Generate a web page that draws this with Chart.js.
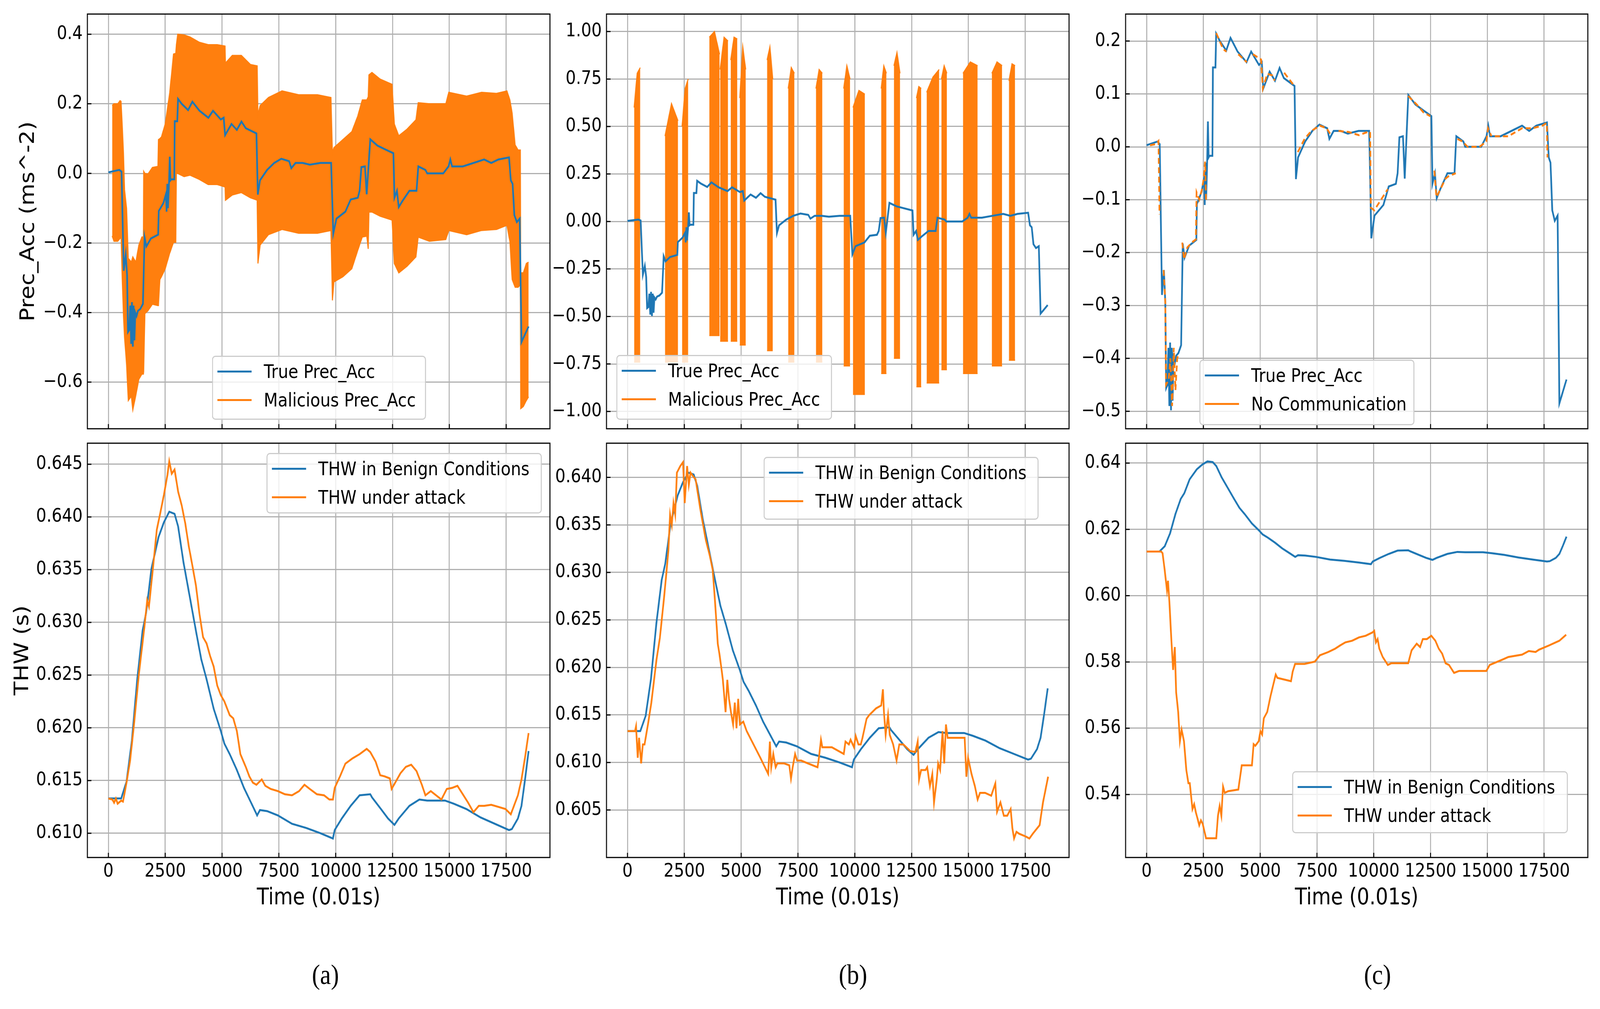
<!DOCTYPE html>
<html lang="en">
<head>
<meta charset="UTF-8">
<title>Prec_Acc and THW under attack</title>
<script src="https://cdn.jsdelivr.net/npm/chart.js@4.4.1/dist/chart.umd.min.js"></script>
<style>
  html, body { margin: 0; padding: 0; background: #fff; overflow: hidden; }
  body { position: relative; font-family: "DejaVu Sans", sans-serif; }
  #stage { position: absolute; left: 0; top: 0; width: 4725px; height: 2584px; transform-origin: 0 0; background: #fff; }
  canvas.panel { position: absolute; }
  .legend { position: absolute; box-sizing: border-box; border: 3px solid #cccccc; border-radius: 10px; background: rgba(255,255,255,0.8); }
  .legend .item { position: absolute; left: 0; right: 0; height: 60px; }
  .legend .swatch { position: absolute; left: 13px; width: 101px; height: 5px; top: 28px; }
  .legend .text { position: absolute; left: 150px; top: 0; line-height: 60px; font-size: 48px; color: #000; white-space: nowrap; }
  .caption { position: absolute; font-family: "Liberation Serif", "Times New Roman", serif; font-size: 72px; color: #000; transform: translate(-50%, -50%); }
</style>
</head>
<body>
<div id="stage"></div>
<script>
// ---- data (time in 0.01 s) ----

// x ticks (shared by every panel)
const xTickVals = [0, 2500, 5000, 7500, 10000, 12500, 15000, 17500];
const xTickLabels = ["0", "2500", "5000", "7500", "10000", "12500", "15000", "17500"];

// y ticks
const aTopTickVals = [-0.6, -0.4, -0.2, 0.0, 0.2, 0.4];
const aTopTickLabels = ["\u22120.6", "\u22120.4", "\u22120.2", "0.0", "0.2", "0.4"];
const aBotTickVals = [0.610, 0.615, 0.620, 0.625, 0.630, 0.635, 0.640, 0.645];
const aBotTickLabels = ["0.610", "0.615", "0.620", "0.625", "0.630", "0.635", "0.640", "0.645"];
const bTopTickVals = [-1.0, -0.75, -0.5, -0.25, 0.0, 0.25, 0.5, 0.75, 1.0];
const bTopTickLabels = ["\u22121.00", "\u22120.75", "\u22120.50", "\u22120.25", "0.00", "0.25", "0.50", "0.75", "1.00"];
const bBotTickVals = [0.605, 0.610, 0.615, 0.620, 0.625, 0.630, 0.635, 0.640];
const bBotTickLabels = ["0.605", "0.610", "0.615", "0.620", "0.625", "0.630", "0.635", "0.640"];
const cTopTickVals = [-0.5, -0.4, -0.3, -0.2, -0.1, 0.0, 0.1, 0.2];
const cTopTickLabels = ["\u22120.5", "\u22120.4", "\u22120.3", "\u22120.2", "\u22120.1", "0.0", "0.1", "0.2"];
const cBotTickVals = [0.54, 0.56, 0.58, 0.60, 0.62, 0.64];
const cBotTickLabels = ["0.54", "0.56", "0.58", "0.60", "0.62", "0.64"];

// True Prec_Acc (same trace in a, b, c)
const trueAccT = [0, 480, 577, 676, 762, 822, 862, 920, 960, 1000, 1035, 1075, 1110, 1145, 1185, 1240, 1300, 1400, 1520, 1591,
  1670, 1870, 2190, 2215, 2290, 2420, 2530, 2560, 2590, 2620, 2660, 2699, 2730, 2765, 2898, 2918, 3030, 3063, 3225, 3506,
  3694, 4007, 4398, 4602, 4946, 5072, 5134, 5416, 5651, 5854, 6042, 6512, 6574, 6668, 6981, 7294, 7607, 7952, 8046, 8234,
  8547, 8860, 9329, 9799, 9893, 10034, 10425, 10660, 10973, 11051, 11129, 11286, 11364, 11521, 11834, 12147, 12538, 12585, 12695, 12773,
  12930, 13242, 13555, 13634, 13947, 14025, 14730, 14964, 15043, 15121, 15591, 16060, 16530, 16843, 17156, 17626, 17704, 17782, 17860, 17970,
  18095, 18173, 18486];
const trueAccV = [0.003, 0.010, 0.005, -0.28, -0.233, -0.293, -0.456, -0.45, -0.38, -0.49, -0.37, -0.498, -0.38, -0.48, -0.40, -0.41, -0.395, -0.39, -0.375, -0.183,
  -0.21, -0.187, -0.176, -0.108, -0.10, -0.085, -0.06, -0.11, -0.03, -0.10, -0.04, 0.048, -0.02, -0.017, -0.017, 0.15, 0.15, 0.214, 0.20, 0.182,
  0.206, 0.18, 0.16, 0.18, 0.155, 0.16, 0.11, 0.142, 0.125, 0.149, 0.13, 0.115, -0.061, -0.02, 0.01, 0.03, 0.042, 0.035, 0.015, 0.03,
  0.03, 0.025, 0.03, 0.03, -0.173, -0.13, -0.11, -0.075, -0.07, -0.05, 0.018, 0.02, -0.06, 0.098, 0.08, 0.07, 0.058, -0.07, -0.05, -0.097,
  -0.08, -0.05, -0.05, 0.02, 0.01, 0.0, 0.0, 0.02, 0.04, 0.02, 0.02, 0.03, 0.04, 0.03, 0.04, 0.046, -0.02, -0.03, -0.12, -0.14,
  -0.13, -0.485, -0.44];

// (a) Malicious Prec_Acc: dense oscillation, kept as its upper / lower envelope
const malAT = [166, 245, 411, 511, 557, 610, 663, 710, 800, 875, 1008, 1074, 1207, 1339, 1472, 1540, 1552, 1605, 1737, 1936,
  2180, 2201, 2265, 2334, 2500, 2699, 2865, 2964, 2990, 3050, 3329, 3594, 3992, 4390, 4788, 5132, 5150, 5451, 5849, 6246,
  6545, 6578, 6677, 7042, 7639, 8369, 9199, 9790, 9856, 9921, 10315, 10709, 10971, 11168, 11365, 11430, 11463, 11595, 11955, 12480,
  12579, 12776, 13137, 13530, 13629, 14121, 14843, 14974, 15761, 16418, 17074, 17533, 17665, 17763, 17894, 18025, 18124, 18140, 18255, 18386,
  18485];
const malAHigh = [0.195, 0.20, 0.20, 0.209, 0.207, 0.135, 0.06, -0.047, -0.10, -0.244, -0.255, -0.24, -0.255, -0.206, -0.183, -0.183, 0.006, 0.0, -0.002, 0.017,
  0.02, 0.097, 0.10, 0.105, 0.142, 0.233, 0.343, 0.345, 0.37, 0.40, 0.398, 0.392, 0.377, 0.37, 0.37, 0.366, 0.317, 0.339, 0.339, 0.313,
  0.309, 0.169, 0.195, 0.218, 0.237, 0.226, 0.226, 0.218, 0.059, 0.074, 0.097, 0.12, 0.165, 0.211, 0.211, 0.22, 0.283, 0.29, 0.271, 0.256,
  0.142, 0.108, 0.127, 0.154, 0.203, 0.20, 0.20, 0.233, 0.222, 0.233, 0.23, 0.237, 0.211, 0.173, 0.082, 0.067, 0.067, -0.286, -0.286, -0.259,
  -0.255];
const malALow = [-0.18, -0.195, -0.195, -0.187, -0.18, -0.305, -0.41, -0.471, -0.55, -0.653, -0.64, -0.68, -0.638, -0.592, -0.577, -0.577, -0.57, -0.403, -0.395, -0.376,
  -0.38, -0.38, -0.305, -0.297, -0.274, -0.229, -0.198, -0.198, 0.0, 0.0, -0.009, -0.005, -0.017, -0.032, -0.032, -0.039, -0.077, -0.062, -0.055, -0.07,
  -0.077, -0.259, -0.206, -0.176, -0.161, -0.172, -0.172, -0.164, -0.365, -0.312, -0.297, -0.274, -0.221, -0.183, -0.18, -0.217, -0.111, -0.111, -0.123, -0.134,
  -0.259, -0.286, -0.267, -0.24, -0.183, -0.195, -0.19, -0.164, -0.176, -0.164, -0.161, -0.149, -0.197, -0.305, -0.327, -0.327, -0.32, -0.676, -0.67, -0.653,
  -0.642];

// (b) Malicious Prec_Acc: attack bursts
const burstStart = [290, 1650, 2400, 3600, 4075, 4540, 4940, 6140, 7070, 8290, 9510, 9920, 11160, 11720, 12710, 13160, 13810, 14760, 16030, 16780];
const burstEnd = [560, 2220, 2670, 4050, 4420, 4830, 5200, 6390, 7340, 8570, 9790, 10440, 11390, 11990, 12920, 13710, 14050, 15400, 16480, 17050];
const burstHighStart = [0.60, 0.45, 0.50, 0.97, 0.80, 0.85, 0.65, 0.85, 0.70, 0.70, 0.70, 0.60, 0.70, 0.82, 0.65, 0.68, 0.75, 0.78, 0.78, 0.74];
const burstHighPeak = [0.78, 0.62, 0.70, 1.00, 0.97, 0.97, 0.92, 0.92, 0.81, 0.80, 0.82, 0.69, 0.82, 0.89, 0.71, 0.76, 0.82, 0.84, 0.84, 0.83];
const burstHighEnd = [0.81, 0.53, 0.75, 0.88, 0.95, 0.96, 0.80, 0.75, 0.78, 0.78, 0.75, 0.67, 0.78, 0.78, 0.70, 0.80, 0.78, 0.82, 0.82, 0.82];
const burstLow = [-0.74, -0.74, -0.74, -0.60, -0.63, -0.63, -0.65, -0.68, -0.74, -0.74, -0.76, -0.91, -0.80, -0.72, -0.87, -0.85, -0.78, -0.80, -0.76, -0.73];

// (c) No Communication: dashed pieces, one sub-array per piece
const noCommT = [
  [150, 404, 523, 568],
  [748, 823, 853, 972, 1047, 1122, 1197, 1271, 1346, 1421],
  [1570, 1645, 1795, 2019, 2169, 2199, 2318, 2438, 2513, 2573, 2617],
  [3066, 3216, 3365, 3515],
  [4038, 4412],
  [4682, 5041, 5116, 5310, 5534, 5639],
  [6058, 6506],
  [6656, 6955, 7254, 7628, 7927, 8077],
  [8451, 8899, 9348, 9722, 9842, 9872, 10021, 10320, 10619],
  [11517, 11891, 12190, 12489],
  [12669, 12758, 12938, 13162, 13312, 13611],
  [13686, 13910, 14134, 14658, 14957, 15032, 15182],
  [15331, 15929, 16528, 16976, 17425, 17619, 17649]
];
const noCommV = [
  [0.003, 0.005, 0.011, -0.128],
  [-0.233, -0.294, -0.45, -0.44, -0.40, -0.49, -0.38, -0.46, -0.40, -0.39],
  [-0.181, -0.213, -0.19, -0.18, -0.175, -0.086, -0.10, -0.08, -0.06, -0.028, -0.10],
  [0.215, 0.20, 0.185, 0.18],
  [0.175, 0.16],
  [0.175, 0.165, 0.11, 0.138, 0.135, 0.125],
  [0.14, 0.115],
  [-0.01, 0.015, 0.03, 0.04, 0.035, 0.025],
  [0.03, 0.028, 0.022, 0.028, 0.028, -0.115, -0.12, -0.10, -0.08],
  [0.096, 0.08, 0.065, 0.058],
  [-0.045, -0.095, -0.08, -0.06, -0.055, -0.05],
  [0.015, 0.01, 0.0, 0.0, 0.01, 0.035, 0.02],
  [0.02, 0.02, 0.035, 0.035, 0.04, 0.045, -0.02]
];

// THW in Benign Conditions (same trace in a, b, c)
const benignT = [0, 563, 798, 1033, 1268, 1503, 1659, 1894, 2207, 2442, 2677, 2911, 3068, 3303, 3616, 3851, 4085, 4320, 4633, 4946,
  5103, 5338, 5651, 5964, 6277, 6543, 6668, 6981, 7451, 8077, 8703, 9329, 9877, 9955, 10268, 10660, 11051, 11521, 11599, 11990,
  12303, 12585, 12773, 13242, 13681, 14025, 14808, 15199, 15747, 16373, 16999, 17625, 17750, 18016, 18173, 18330, 18486];
const benignV = [0.6133, 0.6133, 0.6149, 0.6188, 0.6246, 0.6292, 0.6309, 0.6351, 0.6381, 0.6395, 0.6405, 0.6403, 0.6391, 0.6357, 0.6320, 0.6292, 0.6265, 0.6246, 0.6218, 0.6197,
  0.6185, 0.6175, 0.6160, 0.6143, 0.6129, 0.6117, 0.6122, 0.6121, 0.6117, 0.6109, 0.6105, 0.6100, 0.6095, 0.6103, 0.6114, 0.6126, 0.6136, 0.6137, 0.6134, 0.6123,
  0.6114, 0.6108, 0.6114, 0.6126, 0.6132, 0.6131, 0.6131, 0.6128, 0.6123, 0.6115, 0.6109, 0.6103, 0.6104, 0.6114, 0.6126, 0.6151, 0.6178];

// THW under attack (a)
const attackAT = [0, 172, 250, 329, 407, 563, 642, 798, 955, 1111, 1346, 1581, 1706, 1784, 1972, 2129, 2285, 2442, 2598, 2677,
  2786, 2911, 3068, 3225, 3381, 3538, 3694, 3851, 4007, 4164, 4320, 4477, 4633, 4790, 4946, 5103, 5338, 5494, 5651, 5807,
  6042, 6199, 6355, 6512, 6746, 6903, 7138, 7451, 7764, 8077, 8390, 8625, 8860, 9173, 9486, 9721, 9877, 9955, 10190, 10425,
  10738, 11051, 11364, 11521, 11755, 11959, 12147, 12382, 12460, 12617, 12851, 13086, 13321, 13555, 13790, 13947, 14182, 14416, 14651, 14886,
  15121, 15356, 15591, 15825, 16060, 16295, 16530, 16843, 17156, 17469, 17704, 17860, 18016, 18173, 18330, 18486];
const attackAV = [0.6133, 0.6132, 0.6129, 0.6133, 0.6128, 0.6131, 0.6130, 0.6148, 0.6169, 0.6200, 0.6252, 0.6295, 0.6321, 0.6315, 0.6354, 0.6388, 0.6404, 0.6421, 0.6440, 0.6453,
  0.6441, 0.6445, 0.6424, 0.6411, 0.6394, 0.6372, 0.6354, 0.6335, 0.6308, 0.6286, 0.6280, 0.6268, 0.6258, 0.6240, 0.6231, 0.6225, 0.6212, 0.6209, 0.6197, 0.6175,
  0.6163, 0.6154, 0.6148, 0.6146, 0.6151, 0.6145, 0.6142, 0.6140, 0.6137, 0.6136, 0.6140, 0.6146, 0.6142, 0.6137, 0.6136, 0.6132, 0.6132, 0.6143, 0.6154, 0.6166,
  0.6171, 0.6175, 0.6180, 0.6177, 0.6168, 0.6155, 0.6154, 0.6152, 0.6142, 0.6148, 0.6157, 0.6163, 0.6165, 0.6159, 0.6146, 0.6136, 0.6140, 0.6136, 0.6132, 0.6142,
  0.6143, 0.6145, 0.6137, 0.6129, 0.6120, 0.6126, 0.6126, 0.6127, 0.6125, 0.6123, 0.6118, 0.6127, 0.6136, 0.6151, 0.6172, 0.6195];

// THW under attack (b)
const attackBT = [0, 330, 375, 449, 509, 599, 674, 749, 899, 1049, 1274, 1423, 1618, 1723, 1798, 1873, 1948, 2023, 2098, 2173,
  2323, 2442, 2517, 2622, 2697, 2772, 2922, 2997, 3221, 3446, 3626, 3746, 3851, 3926, 3971, 4045, 4120, 4195, 4315, 4390,
  4465, 4570, 4645, 4720, 4795, 4870, 4944, 5094, 5244, 5544, 5843, 6188, 6263, 6323, 6413, 6518, 6593, 6892, 7117, 7192,
  7267, 7372, 7461, 7641, 7941, 8361, 8421, 8511, 8571, 8990, 9514, 9589, 9739, 9814, 9964, 10039, 10159, 10263, 10338, 10518,
  10638, 10938, 11162, 11237, 11282, 11357, 11462, 11537, 11687, 11837, 11956, 12136, 12436, 12661, 12766, 12826, 12916, 13110, 13185, 13305,
  13410, 13485, 13605, 13665, 13754, 13859, 13934, 14009, 14084, 14833, 14908, 14983, 15133, 15283, 15403, 15508, 15732, 16002, 16182, 16257,
  16407, 16556, 16706, 16856, 16931, 17006, 17111, 17231, 17530, 17680, 17830, 18130, 18279, 18504];
const attackBV = [0.6133, 0.6133, 0.6138, 0.6105, 0.6126, 0.6099, 0.6119, 0.6119, 0.6140, 0.6163, 0.6208, 0.6231, 0.6276, 0.6303, 0.6323, 0.6361, 0.6350, 0.6373, 0.6361, 0.6405,
  0.6412, 0.6416, 0.6373, 0.6412, 0.6392, 0.6405, 0.6400, 0.6398, 0.6364, 0.6334, 0.6317, 0.6303, 0.6269, 0.6242, 0.6225, 0.6214, 0.6201, 0.6187, 0.6153, 0.6187,
  0.6167, 0.6150, 0.6140, 0.6163, 0.6136, 0.6167, 0.6140, 0.6143, 0.6133, 0.6119, 0.6105, 0.6088, 0.6122, 0.6095, 0.6109, 0.6095, 0.6099, 0.6099, 0.6097, 0.6083,
  0.6095, 0.6109, 0.6102, 0.6102, 0.6099, 0.6095, 0.6105, 0.6124, 0.6116, 0.6116, 0.6109, 0.6122, 0.6119, 0.6124, 0.6116, 0.6128, 0.6119, 0.6119, 0.6126, 0.6146,
  0.6150, 0.6157, 0.6160, 0.6177, 0.6153, 0.6129, 0.6150, 0.6129, 0.6119, 0.6102, 0.6119, 0.6119, 0.6112, 0.6111, 0.6122, 0.6082, 0.6092, 0.6092, 0.6095, 0.6075,
  0.6088, 0.6058, 0.6082, 0.6099, 0.6092, 0.6133, 0.6099, 0.6140, 0.6126, 0.6126, 0.6085, 0.6105, 0.6088, 0.6075, 0.6061, 0.6068, 0.6068, 0.6065, 0.6078, 0.6048,
  0.6058, 0.6044, 0.6044, 0.6051, 0.6031, 0.6020, 0.6027, 0.6025, 0.6022, 0.6020, 0.6025, 0.6034, 0.6058, 0.6085];

// THW under attack (c)
const attackCT = [0, 643, 703, 793, 897, 942, 1002, 1092, 1167, 1241, 1301, 1391, 1466, 1541, 1645, 1750, 1840, 1900, 2019, 2094,
  2169, 2244, 2318, 2393, 2468, 2617, 3066, 3141, 3216, 3291, 3365, 3440, 3590, 4038, 4188, 4637, 4711, 4786, 4936, 5011,
  5085, 5160, 5310, 5459, 5684, 5758, 6357, 6432, 6536, 6955, 7404, 7628, 8002, 8301, 8525, 8750, 9049, 9348, 9647, 9946,
  10021, 10096, 10171, 10246, 10395, 10619, 10769, 11517, 11666, 11891, 12041, 12160, 12340, 12534, 12713, 12863, 13013, 13162, 13312, 13536,
  13760, 14957, 15107, 15630, 15929, 16528, 16827, 17126, 17275, 17724, 18173, 18472];
const attackCV = [0.6133, 0.6133, 0.6128, 0.6079, 0.6016, 0.6045, 0.5982, 0.5864, 0.5776, 0.5845, 0.5708, 0.5649, 0.5561, 0.5596, 0.5561, 0.5473, 0.5434, 0.5434, 0.5356, 0.5371,
  0.5346, 0.5327, 0.5307, 0.5322, 0.5312, 0.5268, 0.5268, 0.5336, 0.5366, 0.5336, 0.5424, 0.5405, 0.5410, 0.5415, 0.5488, 0.5488, 0.5552, 0.5547, 0.5561, 0.5591,
  0.5581, 0.5630, 0.5649, 0.5698, 0.5762, 0.5752, 0.5742, 0.5771, 0.5794, 0.5794, 0.5801, 0.5820, 0.5830, 0.5840, 0.5850, 0.5859, 0.5864, 0.5874, 0.5879, 0.5889,
  0.5894, 0.5859, 0.5869, 0.5840, 0.5815, 0.5791, 0.5796, 0.5796, 0.5835, 0.5855, 0.5845, 0.5869, 0.5869, 0.5879, 0.5864, 0.5840, 0.5825, 0.5796, 0.5791, 0.5767,
  0.5773, 0.5773, 0.5791, 0.5806, 0.5815, 0.5822, 0.5833, 0.5830, 0.5837, 0.5850, 0.5864, 0.5882];

// ---- page scale: the figure is laid out on a 4725 x 2584 stage and stretched to the viewport ----
// (the browser caps the window width, so the stage is fitted to whatever viewport we actually get)
const STAGE_W = 4725, STAGE_H = 2584;
const stage = document.getElementById("stage");
const vw = document.documentElement.clientWidth || window.innerWidth;
const vh = document.documentElement.clientHeight || window.innerHeight;
const sx = vw / STAGE_W, sy = vh / STAGE_H;
stage.style.transform = "scale(" + sx + "," + sy + ")";
document.body.style.width = vw + "px";
document.body.style.height = vh + "px";

// ---- helpers ----
const BLUE = "#1f77b4";
const ORANGE = "#ff7f0e";
Chart.defaults.font.family = "'DejaVu Sans', sans-serif";
Chart.defaults.color = "#000";

function pts(t, v) {
  return t.map((x, i) => ({ x: x, y: v[i] }));
}

function piecePts(tt, vv) {
  const out = [];
  tt.forEach((seg, k) => {
    seg.forEach((x, i) => out.push({ x: x, y: vv[k][i] }));
    out.push({ x: seg[seg.length - 1], y: null });
  });
  return out;
}

function burstPts(which) {
  const out = [];
  burstStart.forEach((s, i) => {
    const e = burstEnd[i];
    const m = (s + e) / 2;
    if (which === "high") {
      out.push({ x: s, y: burstHighStart[i] }, { x: m, y: burstHighPeak[i] }, { x: e, y: burstHighEnd[i] });
    } else {
      out.push({ x: s, y: burstLow[i] }, { x: m, y: burstLow[i] }, { x: e, y: burstLow[i] });
    }
    out.push({ x: e, y: null });
  });
  return out;
}

function line(data, color, extra) {
  return Object.assign({
    data: data, borderColor: color, backgroundColor: color, borderWidth: 5,
    pointRadius: 0, tension: 0, fill: false
  }, extra || {});
}

// frame and inward tick marks, like the original axes
const framePlugin = {
  id: "frame",
  afterDraw(chart) {
    const { ctx, chartArea: a, scales } = chart;
    ctx.save();
    ctx.strokeStyle = "#000";
    ctx.lineWidth = 3;
    ctx.beginPath();
    scales.x.ticks.forEach(t => {
      const px = scales.x.getPixelForValue(t.value);
      ctx.moveTo(px, a.bottom); ctx.lineTo(px, a.bottom - 12);
    });
    scales.y.ticks.forEach(t => {
      const py = scales.y.getPixelForValue(t.value);
      ctx.moveTo(a.left, py); ctx.lineTo(a.left + 12, py);
    });
    ctx.stroke();
    ctx.strokeRect(a.left, a.top, a.right - a.left, a.bottom - a.top);
    ctx.restore();
  }
};

// ---- panels ----
const COLS = { a: [258, 1624, 0], b: [1791, 3157, 1620], c: [3324, 4689, 3180] };
const ROWS = { top: [36, 1098], bottom: [1135, 2196] };

const panels = [
  { col: "a", row: "top", yMin: -0.734, yMax: 0.458, ticks: aTopTickVals, labels: aTopTickLabels,
    yTitle: "Prec_Acc (ms^-2)", yTitlePad: 50,
    datasets: [
      line(pts(trueAccT, trueAccV), BLUE, { order: 0 }),
      line(pts(malAT, malAHigh), ORANGE, { order: 1, borderWidth: 3, fill: "+1" }),
      line(pts(malAT, malALow), ORANGE, { order: 1, borderWidth: 3 })
    ] },
  { col: "a", row: "bottom", yMin: 0.6077, yMax: 0.6470, ticks: aBotTickVals, labels: aBotTickLabels,
    yTitle: "THW (s)", yTitlePad: 33,
    datasets: [
      line(pts(benignT, benignV), BLUE, { order: 1 }),
      line(pts(attackAT, attackAV), ORANGE, { order: 0 })
    ] },
  { col: "b", row: "top", yMin: -1.091, yMax: 1.092, ticks: bTopTickVals, labels: bTopTickLabels,
    datasets: [
      line(pts(trueAccT, trueAccV), BLUE, { order: 0 }),
      line(burstPts("high"), ORANGE, { order: 1, borderWidth: 3, fill: "+1" }),
      line(burstPts("low"), ORANGE, { order: 1, borderWidth: 3 })
    ] },
  { col: "b", row: "bottom", yMin: 0.6000, yMax: 0.6436, ticks: bBotTickVals, labels: bBotTickLabels,
    datasets: [
      line(pts(benignT, benignV), BLUE, { order: 1 }),
      line(pts(attackBT, attackBV), ORANGE, { order: 0 })
    ] },
  { col: "c", row: "top", yMin: -0.533, yMax: 0.251, ticks: cTopTickVals, labels: cTopTickLabels,
    datasets: [
      line(pts(trueAccT, trueAccV), BLUE, { order: 1 }),
      line(piecePts(noCommT, noCommV), ORANGE, { order: 0, borderDash: [15, 9] })
    ] },
  { col: "c", row: "bottom", yMin: 0.521, yMax: 0.646, ticks: cBotTickVals, labels: cBotTickLabels,
    datasets: [
      line(pts(benignT, benignV), BLUE, { order: 1 }),
      line(pts(attackCT, attackCV), ORANGE, { order: 0 })
    ] }
];

const PAD_TOP = 20, PAD_RIGHT = 10;

panels.forEach(p => {
  const [plotL, plotR, canvasL] = COLS[p.col];
  const [plotT, plotB] = ROWS[p.row];
  const isBottom = p.row === "bottom";
  const yW = plotL - canvasL;
  const xH = isBottom ? 140 : 4;
  const canvas = document.createElement("canvas");
  canvas.className = "panel";
  canvas.width = yW + (plotR - plotL) + PAD_RIGHT;
  canvas.height = PAD_TOP + (plotB - plotT) + xH;
  canvas.style.left = canvasL + "px";
  canvas.style.top = (plotT - PAD_TOP) + "px";
  stage.appendChild(canvas);

  new Chart(canvas.getContext("2d"), {
    type: "line",
    data: { datasets: p.datasets },
    plugins: [framePlugin],
    options: {
      responsive: false,
      animation: false,
      devicePixelRatio: 1,
      layout: { padding: { top: PAD_TOP, right: PAD_RIGHT, left: 0, bottom: 0 } },
      plugins: { legend: { display: false }, tooltip: { enabled: false } },
      scales: {
        x: {
          type: "linear", position: "bottom", min: -925, max: 19425,
          afterBuildTicks: s => { s.ticks = xTickVals.map(v => ({ value: v })); },
          afterFit: s => { s.height = xH; s.paddingLeft = 0; s.paddingRight = 0; },
          ticks: {
            display: isBottom, autoSkip: false, maxRotation: 0, padding: 8,
            font: { size: 48 }, color: "#000",
            callback: (v, i) => xTickLabels[i]
          },
          grid: { color: "#b0b0b0", lineWidth: 3, drawTicks: false },
          border: { display: false },
          title: {
            display: isBottom, text: "Time (0.01s)", color: "#000",
            font: { size: 58 }, padding: { top: 0, bottom: 0 }
          }
        },
        y: {
          type: "linear", position: "left", min: p.yMin, max: p.yMax,
          afterBuildTicks: s => { s.ticks = p.ticks.map(v => ({ value: v })); },
          afterFit: s => { s.width = yW; s.paddingTop = 0; s.paddingBottom = 0; },
          ticks: {
            autoSkip: false, padding: 14, font: { size: 48 }, color: "#000",
            callback: (v, i) => p.labels[i]
          },
          grid: { color: "#b0b0b0", lineWidth: 3, drawTicks: false },
          border: { display: false },
          title: {
            display: !!p.yTitle, text: p.yTitle || "", color: "#000",
            font: { size: 58 }, padding: { top: p.yTitlePad || 0, bottom: 0 }
          }
        }
      }
    }
  });
});

// ---- legends (matplotlib style boxes) ----
const legends = [
  { box: [626, 911, 632, 164], items: [["True Prec_Acc", BLUE], ["Malicious Prec_Acc", ORANGE]] },
  { box: [787, 1160, 813, 155], items: [["THW in Benign Conditions", BLUE], ["THW under attack", ORANGE]] },
  { box: [1820, 909, 637, 166], items: [["True Prec_Acc", BLUE], ["Malicious Prec_Acc", ORANGE]] },
  { box: [2255, 1170, 812, 161], items: [["THW in Benign Conditions", BLUE], ["THW under attack", ORANGE]] },
  { box: [3542, 921, 635, 168], items: [["True Prec_Acc", BLUE], ["No Communication", ORANGE]] },
  { box: [3816, 1975, 814, 159], items: [["THW in Benign Conditions", BLUE], ["THW under attack", ORANGE]] }
];
legends.forEach(l => {
  const d = document.createElement("div");
  d.className = "legend";
  d.style.left = l.box[0] + "px";
  d.style.top = l.box[1] + "px";
  d.style.width = l.box[2] + "px";
  d.style.height = l.box[3] + "px";
  l.items.forEach((it, k) => {
    const row = document.createElement("div");
    row.className = "item";
    row.style.top = (7 + k * 73) + "px";
    const sw = document.createElement("div");
    sw.className = "swatch";
    sw.style.background = it[1];
    const tx = document.createElement("div");
    tx.className = "text";
    tx.textContent = it[0];
    row.appendChild(sw);
    row.appendChild(tx);
    d.appendChild(row);
  });
  stage.appendChild(d);
});

// ---- sub-figure captions ----
[["(a)", 961], ["(b)", 2519], ["(c)", 4068]].forEach(c => {
  const s = document.createElement("div");
  s.className = "caption";
  s.textContent = c[0];
  s.style.left = c[1] + "px";
  s.style.top = "2496px";
  stage.appendChild(s);
});
</script>
</body>
</html>
